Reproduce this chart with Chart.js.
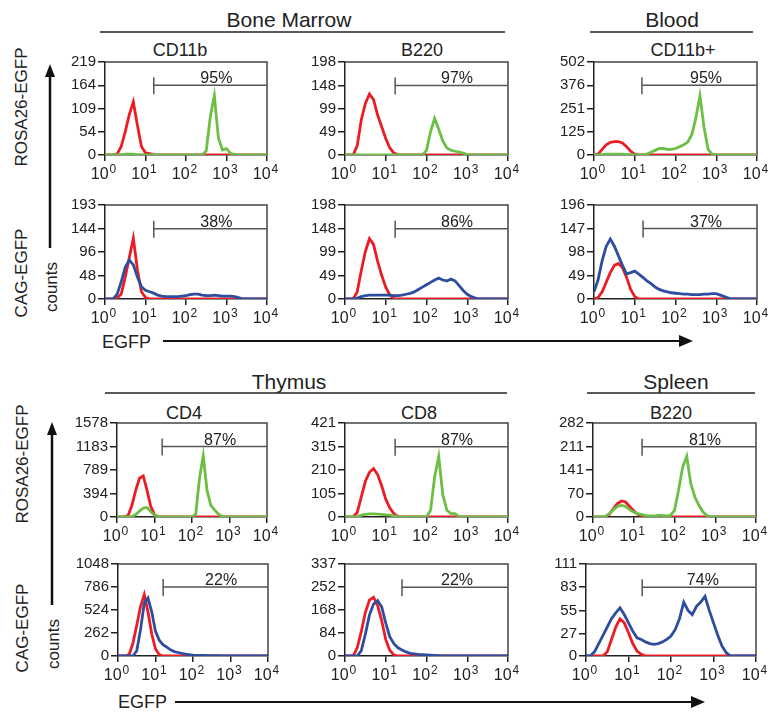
<!DOCTYPE html>
<html>
<head>
<meta charset="utf-8">
<script src="https://cdn.jsdelivr.net/npm/chart.js@4.4.0/dist/chart.umd.min.js"></script>
<style>
body{margin:0;background:#fff;}
#fig{position:relative;width:771px;height:723px;overflow:hidden;font-family:"Liberation Sans",Arial,sans-serif;}
#fig canvas{position:absolute;}
#fig svg{position:absolute;left:0;top:0;}
</style>
</head>
<body>
<div id="fig">
<svg width="771" height="723" font-family="Liberation Sans, Arial, sans-serif" fill="#222">
  <!-- tissue headers -->
  <text x="289" y="27" font-size="21" text-anchor="middle">Bone Marrow</text>
  <line x1="100" y1="32" x2="505" y2="32" stroke="#222" stroke-width="1.5"/>
  <text x="672" y="27" font-size="21" text-anchor="middle">Blood</text>
  <line x1="590" y1="32" x2="753" y2="32" stroke="#222" stroke-width="1.5"/>
  <text x="289" y="389" font-size="21" text-anchor="middle">Thymus</text>
  <line x1="105" y1="393" x2="507" y2="393" stroke="#222" stroke-width="1.5"/>
  <text x="676" y="389" font-size="21" text-anchor="middle">Spleen</text>
  <line x1="587" y1="393" x2="755" y2="393" stroke="#222" stroke-width="1.5"/>

  <!-- marker titles -->
  <text x="180" y="56" font-size="18" text-anchor="middle">CD11b</text>
  <text x="422" y="56" font-size="18" text-anchor="middle">B220</text>
  <text x="683" y="56" font-size="18" text-anchor="middle">CD11b+</text>
  <text x="184" y="419" font-size="18" text-anchor="middle">CD4</text>
  <text x="419" y="419" font-size="18" text-anchor="middle">CD8</text>
  <text x="671" y="419" font-size="18" text-anchor="middle">B220</text>

  <!-- left labels -->
  <text transform="translate(27,107) rotate(-90)" font-size="17" text-anchor="middle">ROSA26-EGFP</text>
  <text transform="translate(27,273) rotate(-90)" font-size="17" text-anchor="middle">CAG-EGFP</text>
  <text transform="translate(57,287) rotate(-90)" font-size="17" text-anchor="middle">counts</text>
  <text transform="translate(28,464) rotate(-90)" font-size="17" text-anchor="middle">ROSA26-EGFP</text>
  <text transform="translate(28,628) rotate(-90)" font-size="17" text-anchor="middle">CAG-EGFP</text>
  <text transform="translate(59,644) rotate(-90)" font-size="17" text-anchor="middle">counts</text>

  <!-- counts arrows -->
  <line x1="50" y1="74" x2="50" y2="248" stroke="#111" stroke-width="2.5"/>
  <polygon points="50,64 45,77 55,77" fill="#111"/>
  <line x1="52" y1="432" x2="52" y2="605" stroke="#111" stroke-width="2.5"/>
  <polygon points="52,422 47,435 57,435" fill="#111"/>

  <!-- EGFP arrows -->
  <text x="102" y="348" font-size="18">EGFP</text>
  <line x1="163" y1="341" x2="682" y2="341" stroke="#111" stroke-width="2"/>
  <polygon points="693,341 679,335 679,347" fill="#111"/>
  <text x="118" y="708" font-size="18">EGFP</text>
  <line x1="175" y1="702" x2="694" y2="702" stroke="#111" stroke-width="2"/>
  <polygon points="705,702 691,696 691,708" fill="#111"/>
</svg>
</div>
<script>
// channel positions, log10(EGFP)
var expo = [0,0.1,0.2,0.3,0.4,0.5,0.6,0.7,0.8,0.9,1,1.1,1.2,1.3,1.4,1.5,1.6,1.7,1.8,1.9,2,2.1,2.2,2.3,2.4,2.5,2.6,2.7,2.8,2.9,3,3.1,3.2,3.3,3.4,3.5,3.6,3.7,3.8,3.9,4];
var xTickVals = [1,10,100,1000,10000];
var xTickExp = ['0','1','2','3','4'];

// counts per channel: control (red) and EGFP (green / blue)
var bmCd11bRosaCtrl = [0,0,0,2,20,55,95,125,70,20, 5,3,1,0,0,0,0,0,0,0, 0,0,0,0,0,0,0,0,0,0, 0,0,0,0,0,0,0,0,0,0, 0];
var bmCd11bRosaEgfp = [0,0,0,0,1,2,2,2,1,1, 0,0,0,0,0,0,0,0,0,0, 0,0,0,0,0,10,90,140,40,12, 15,4,1,0,0,0,0,0,0,0, 0];
var bmB220RosaCtrl = [0,0,0,20,75,110,130,118,85,60, 35,15,4,1,0,0,0,0,0,0, 0,0,0,0,0,0,0,0,0,0, 0,0,0,0,0,0,0,0,0,0, 0];
var bmB220RosaEgfp = [0,0,0,0,0,0,0,0,0,0, 0,0,0,0,0,0,0,0,0,0, 10,50,78,55,30,15,10,8,6,4, 1,0,0,0,0,0,0,0,0,0, 0];
var bloodRosaCtrl = [0,5,30,55,68,72,72,65,45,20, 5,0,0,0,0,0,0,0,0,0, 0,0,0,0,0,0,0,0,0,0, 0,0,0,0,0,0,0,0,0,0, 0];
var bloodRosaEgfp = [0,0,2,4,5,5,5,4,3,2, 1,0,0,5,15,25,35,35,30,30, 35,45,55,70,110,200,320,150,30,5, 0,0,0,0,0,0,0,0,0,0, 0];
var bmCd11bCagCtrl = [0,0,0,2,10,45,85,125,60,15, 3,0,0,0,0,0,0,0,0,0, 0,0,0,0,0,0,0,0,0,0, 0,0,0,0,0,0,0,0,0,0, 0];
var bmCd11bCagEgfp = [0,0,0,10,35,65,80,70,45,25, 18,15,12,8,6,5,5,5,5,6, 7,9,10,10,8,7,7,8,7,6, 6,6,5,3,0,0,0,0,0,0, 0];
var bmB220CagCtrl = [0,0,0,15,60,100,127,115,80,50, 25,8,1,0,0,0,0,0,0,0, 0,0,0,0,0,0,0,0,0,0, 0,0,0,0,0,0,0,0,0,0, 0];
var bmB220CagEgfp = [0,0,0,2,5,7,8,8,8,8, 8,8,7,7,8,10,12,15,20,25, 30,35,40,44,40,38,42,38,28,18, 10,5,2,0,0,0,0,0,0,0, 0];
var bloodCagCtrl = [0,3,15,35,55,70,74,65,45,20, 5,0,0,0,0,0,0,0,0,0, 0,0,0,0,0,0,0,0,0,0, 0,0,0,0,0,0,0,0,0,0, 0];
var bloodCagEgfp = [15,40,80,110,125,110,90,70,52,55, 58,52,45,38,32,25,20,17,15,13, 12,11,10,10,9,9,9,10,10,11, 11,8,5,2,0,0,0,0,0,0, 0];
var thyCd4RosaCtrl = [0,0,0,30,200,450,650,690,450,180, 40,5,0,0,0,0,0,0,0,0, 0,0,0,0,0,0,0,0,0,0, 0,0,0,0,0,0,0,0,0,0, 0];
var thyCd4RosaEgfp = [0,0,0,0,10,40,100,150,160,90, 30,10,3,0,0,0,0,0,0,0, 0,50,650,1030,450,200,120,50,10,0, 0,0,0,0,0,0,0,0,0,0, 0];
var thyCd8RosaCtrl = [0,0,0,20,90,160,200,217,190,140, 80,40,15,3,0,0,0,0,0,0, 0,0,0,0,0,0,0,0,0,0, 0,0,0,0,0,0,0,0,0,0, 0];
var thyCd8RosaEgfp = [0,0,0,2,8,12,14,14,13,12, 10,8,5,2,0,0,0,0,0,0, 0,30,180,270,100,30,15,15,2,0, 0,0,0,0,0,0,0,0,0,0, 0];
var splB220RosaCtrl = [0,0,0,0,8,25,40,48,45,32, 18,8,3,0,0,0,0,0,0,0, 0,0,0,0,0,0,0,0,0,0, 0,0,0,0,0,0,0,0,0,0, 0];
var splB220RosaEgfp = [0,0,0,2,10,22,32,35,32,22, 14,10,7,4,3,3,5,5,3,5, 20,80,150,182,100,60,35,15,4,0, 0,0,0,0,0,0,0,0,0,0, 0];
var thyCd4CagCtrl = [0,0,0,20,150,350,560,700,500,250, 80,15,0,0,0,0,0,0,0,0, 0,0,0,0,0,0,0,0,0,0, 0,0,0,0,0,0,0,0,0,0, 0];
var thyCd4CagEgfp = [0,0,0,0,0,60,300,600,660,500, 280,180,130,100,70,50,40,30,22,15, 10,8,7,6,5,5,4,3,2,0, 0,0,0,0,0,0,0,0,0,0, 0];
var thyCd8CagCtrl = [0,0,0,30,90,160,205,215,185,130, 60,20,4,0,0,0,0,0,0,0, 0,0,0,0,0,0,0,0,0,0, 0,0,0,0,0,0,0,0,0,0, 0];
var thyCd8CagEgfp = [0,0,0,0,20,80,150,190,203,180, 120,70,45,30,22,15,10,8,6,5, 4,3,2,1,0,0,0,0,0,0, 0,0,0,0,0,0,0,0,0,0, 0];
var splB220CagCtrl = [0,0,0,0,0,5,20,35,45,40, 28,15,6,2,0,0,0,0,0,0, 0,0,0,0,0,0,0,0,0,0, 0,0,0,0,0,0,0,0,0,0, 0];
var splB220CagEgfp = [0,0,5,15,25,35,45,52,58,50, 40,30,22,20,17,15,14,15,17,20, 24,32,45,65,55,50,60,65,72,55, 40,25,12,4,0,0,0,0,0,0, 0];

// per panel (row by row)
var ctrlSeries = [bmCd11bRosaCtrl, bmB220RosaCtrl, bloodRosaCtrl, bmCd11bCagCtrl, bmB220CagCtrl, bloodCagCtrl,
                  thyCd4RosaCtrl, thyCd8RosaCtrl, splB220RosaCtrl, thyCd4CagCtrl, thyCd8CagCtrl, splB220CagCtrl];
var egfpSeries = [bmCd11bRosaEgfp, bmB220RosaEgfp, bloodRosaEgfp, bmCd11bCagEgfp, bmB220CagEgfp, bloodCagEgfp,
                  thyCd4RosaEgfp, thyCd8RosaEgfp, splB220RosaEgfp, thyCd4CagEgfp, thyCd8CagEgfp, splB220CagEgfp];
var yTicks = [[0,54,109,164,219],[0,49,99,148,198],[0,125,251,376,502],
              [0,48,96,144,193],[0,49,99,148,198],[0,49,98,147,196],
              [0,394,789,1183,1578],[0,105,210,315,421],[0,70,141,211,282],
              [0,262,524,786,1048],[0,84,168,252,337],[0,27,55,83,111]];
var gateFrom = [16,17,15,16,17,16,16,17,16,16,25,21];
var gatePct = ['95%','97%','95%','38%','86%','37%','87%','87%','81%','22%','22%','74%'];

// plot area boxes [left, top, right, bottom]
var boxes = [[105,61,267,155],[345,61,508,155],[594,61,757,155],
             [105,204,267,299],[345,204,508,299],[594,204,757,299],
             [117,422,267,517],[345,422,508,517],[593,422,756,517],
             [118,563,268,656],[345,563,508,656],[586,563,756,656]];

var RED = '#ec1c24', GREEN = '#6cbf45', BLUE = '#2e4d9f';
var FONT = '"Liberation Sans", Arial, sans-serif';

var framePlugin = {
  id: 'frame',
  beforeDatasetsDraw: function (chart) {
    var a = chart.chartArea, c = chart.ctx;
    c.save();
    c.strokeStyle = '#444';
    c.lineWidth = 1.5;
    c.beginPath();
    c.moveTo(a.left, a.top);
    c.lineTo(a.right, a.top);
    c.lineTo(a.right, a.bottom);
    c.stroke();
    c.restore();
  }
};

// "10" with a raised exponent under each decade tick
var xLabelPlugin = {
  id: 'xlab',
  afterDraw: function (chart) {
    var xs = chart.scales.x, c = chart.ctx;
    var base = chart.chartArea.bottom + 24;
    c.save();
    c.fillStyle = '#222';
    c.textAlign = 'left';
    xTickVals.forEach(function (v, k) {
      var px = xs.getPixelForValue(v);
      c.font = '16px ' + FONT;
      var w1 = c.measureText('10').width;
      c.font = '12px ' + FONT;
      var w2 = c.measureText(xTickExp[k]).width;
      var x0 = px - (w1 + w2) / 2 - 2;
      c.font = '16px ' + FONT;
      c.fillText('10', x0, base);
      c.font = '12px ' + FONT;
      c.fillText(xTickExp[k], x0 + w1 + 1, base - 6);
    });
    c.restore();
  }
};

var gatePlugin = {
  id: 'gate',
  afterDatasetsDraw: function (chart, args, opts) {
    var xs = chart.scales.x, ys = chart.scales.y, c = chart.ctx;
    var x0 = xs.getPixelForValue(opts.from);
    var x1 = xs.getPixelForValue(10000);
    var y = ys.getPixelForValue(opts.level);
    c.save();
    c.strokeStyle = '#555';
    c.lineWidth = 1.5;
    c.beginPath();
    c.moveTo(x0, y - 8); c.lineTo(x0, y + 9);
    c.moveTo(x0, y); c.lineTo(x1, y);
    c.stroke();
    c.fillStyle = '#222';
    c.font = '16px ' + FONT;
    c.textAlign = 'center';
    c.fillText(opts.text, xs.getPixelForValue(Math.pow(10, 2.75)), y - 2);
    c.restore();
  }
};

function makePanel(i) {
  var b = boxes[i];
  var W = 50, PT = 10, PR = 16, PB = 28;
  var cv = document.createElement('canvas');
  cv.width = b[2] - b[0] + W + PR;
  cv.height = b[3] - b[1] + PT + PB;
  cv.style.left = (b[0] - W) + 'px';
  cv.style.top = (b[1] - PT) + 'px';
  document.getElementById('fig').appendChild(cv);

  var egfpColor = (i % 6) < 3 ? GREEN : BLUE;
  var toPts = function (arr) {
    return expo.map(function (e, k) { return {x: Math.pow(10, e), y: arr[k]}; });
  };
  var yt = yTicks[i];

  new Chart(cv, {
    type: 'line',
    data: {
      datasets: [
        {data: toPts(egfpSeries[i]), borderColor: egfpColor, borderWidth: 2.8, pointRadius: 0, tension: 0, order: 0},
        {data: toPts(ctrlSeries[i]), borderColor: RED, borderWidth: 2.8, pointRadius: 0, tension: 0, order: 1}
      ]
    },
    options: {
      responsive: false,
      animation: false,
      devicePixelRatio: 1,
      layout: {padding: {top: PT, right: PR, left: 0, bottom: 0}},
      plugins: {
        legend: {display: false},
        tooltip: {enabled: false},
        gate: {from: gateFrom[i], level: yt[3], text: gatePct[i]}
      },
      scales: {
        x: {
          type: 'logarithmic', min: 1, max: 10000,
          afterBuildTicks: function (s) { s.ticks = xTickVals.map(function (v) { return {value: v}; }); },
          afterFit: function (s) { s.height = PB; },
          ticks: {display: false},
          grid: {drawOnChartArea: false, drawTicks: true, tickLength: 6, color: '#222', lineWidth: 1.5},
          border: {color: '#222', width: 1.5}
        },
        y: {
          min: 0, max: yt[4],
          afterBuildTicks: function (s) { s.ticks = yt.map(function (v) { return {value: v}; }); },
          afterFit: function (s) { s.width = W; },
          ticks: {
            autoSkip: false, padding: 2, color: '#222', font: {family: FONT, size: 15},
            callback: function (v) { return String(v); }
          },
          grid: {drawOnChartArea: false, drawTicks: true, tickLength: 7, color: '#222', lineWidth: 1.5},
          border: {color: '#222', width: 1.5}
        }
      }
    },
    plugins: [framePlugin, gatePlugin, xLabelPlugin]
  });
}

for (var i = 0; i < boxes.length; i++) {
  makePanel(i);
}
</script>
</body>
</html>
